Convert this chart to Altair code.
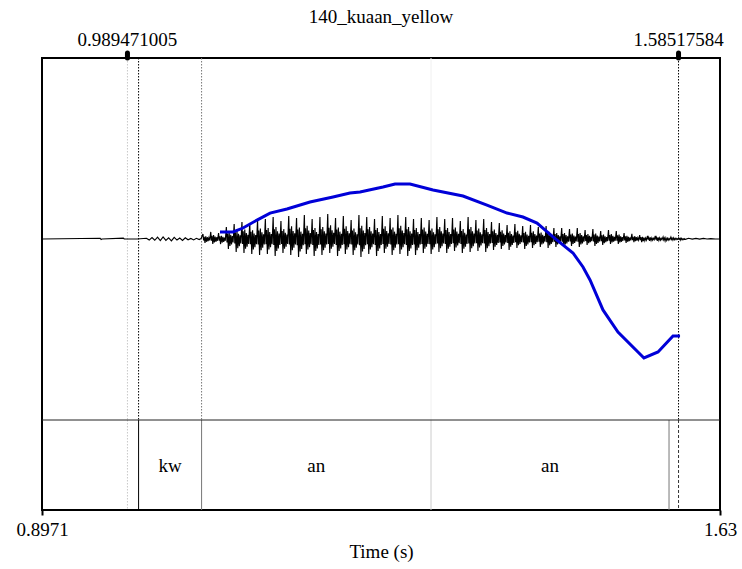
import altair as alt
import pandas as pd

# ---------------- data ----------------
T0, T1 = 0.8971, 1.63
title_text = "140_kuaan_yellow"
sel_times = [0.989471005, 1.58517584]
sel_labels = ["0.989471005", "1.58517584"]

boundary_times = [1.0015, 1.0696, 1.3176, 1.5749]
interval_start = [1.0015, 1.0696, 1.3176]
interval_end = [1.0696, 1.3176, 1.5749]
interval_text = ["kw", "an", "an"]

# pitch contour (Hz)
pitch_t = [1.0895, 1.1036, 1.1144, 1.1295, 1.1436, 1.1619, 1.1868, 1.2117, 1.2300,
           1.2409, 1.2657, 1.2787, 1.2949, 1.3198, 1.3522, 1.3781, 1.3998, 1.4170,
           1.4322, 1.4495, 1.4711, 1.4819, 1.4895, 1.5035, 1.5197, 1.5478, 1.5630,
           1.5792, 1.5868]
pitch_hz = [205.8, 205.8, 209.1, 215.7, 221.5, 224.9, 230.7, 234.8, 238.1,
            238.9, 243.1, 245.6, 245.6, 240.6, 235.6, 228.1, 221.5, 218.2,
            213.2, 201.7, 188.4, 176.8, 166.0, 141.2, 122.9, 101.4, 106.4,
            119.6, 119.6]

# waveform: pre-voicing noise
pre_t = [0.8971, 0.9600, 0.9610, 0.9620, 0.9850, 0.9860, 1.0000, 1.0100, 1.0130,
         1.0160, 1.0190, 1.0220, 1.0250, 1.0280, 1.0310, 1.0340, 1.0370, 1.0400,
         1.0430, 1.0460, 1.0490, 1.0520, 1.0550, 1.0580, 1.0610, 1.0640, 1.0670, 1.0690]
pre_a = [0, 0.004, -0.003, 0, 0.005, 0, 0, 0.004, -0.006,
         0.008, -0.007, 0.010, -0.009, 0.011, -0.008, 0.006, -0.010, 0.009,
         -0.006, 0.005, -0.008, 0.007, -0.004, 0.003, -0.005, 0.004, -0.003, 0.002]

# voiced part: one positive peak and one negative trough per glottal period
voiced_start = 1.0711
period = 0.00843
peak_amp = [0.028, 0.039, 0.033, 0.066, 0.083, 0.094, 0.088, 0.105,
            0.110, 0.121, 0.099, 0.127, 0.116, 0.132, 0.110, 0.121, 0.138, 0.116,
            0.127, 0.105, 0.132, 0.121, 0.110, 0.127, 0.116, 0.132, 0.121, 0.110,
            0.116, 0.105, 0.121, 0.110, 0.116, 0.099, 0.121, 0.105, 0.110, 0.094,
            0.088, 0.077, 0.083, 0.072, 0.077, 0.066, 0.072, 0.061,
            0.061, 0.055, 0.061, 0.050, 0.055, 0.044, 0.050, 0.044,
            0.033, 0.028, 0.022, 0.017, 0.017, 0.011, 0.011, 0.006]
trough_amp = [0.022, 0.028, 0.028, 0.055, 0.072, 0.077, 0.083, 0.088,
              0.083, 0.094, 0.077, 0.088, 0.099, 0.083, 0.094, 0.088, 0.077, 0.094,
              0.083, 0.088, 0.099, 0.083, 0.094, 0.077, 0.088, 0.083, 0.094, 0.088,
              0.077, 0.083, 0.072, 0.077, 0.066, 0.077, 0.072, 0.066, 0.072, 0.061,
              0.055, 0.061, 0.050, 0.055, 0.050, 0.044, 0.050, 0.044,
              0.044, 0.039, 0.044, 0.033, 0.039, 0.033, 0.028, 0.028,
              0.022, 0.017, 0.017, 0.011, 0.011, 0.011, 0.006, 0.006]
# shape of one period (fraction of period, relative height)
pulse_phase = [0.0, 0.08, 0.16, 0.26, 0.36, 0.46, 0.56, 0.66, 0.76, 0.86]
pulse_rel = [1.0, -0.35, 0.45, -1.0, 0.55, -0.7, 0.35, -0.55, 0.25, -0.35]

tail_t = [1.5880, 1.5920, 1.5960, 1.6000, 1.6040, 1.6080, 1.6120, 1.6160, 1.6200, 1.6250, 1.6300]
tail_a = [0.005, -0.002, 0.004, -0.001, 0.003, -0.001, 0.003, 0, 0.002, 0, 0]

# ---------------- build tables ----------------
wt, wa = list(pre_t), list(pre_a)
for i, (p, q) in enumerate(zip(peak_amp, trough_amp)):
    t0 = voiced_start + i * period
    for ph, r in zip(pulse_phase, pulse_rel):
        wt.append(t0 + ph * period)
        wa.append(r * (p if r > 0 else q))
wt += tail_t
wa += tail_a
wave_df = pd.DataFrame({"t": wt, "a": wa})
pitch_df = pd.DataFrame({"t": pitch_t, "hz": pitch_hz})
sel_df = pd.DataFrame({"t": sel_times, "label": sel_labels})
tier_df = pd.DataFrame({"start": interval_start, "end": interval_end, "text": interval_text})

W, H = 678, 452
TOP_H = 362
FONT = "Liberation Serif"
FS = 19

xs = alt.Scale(domain=[T0, T1], nice=False, zero=False)
x_axis = alt.Axis(values=[T0, T1], labelExpr="format(datum.value, '~g')",
                  title="Time (s)", grid=False,
                  domain=False, tickSize=5, tickWidth=2, tickColor="black",
                  labelFont=FONT, labelFontSize=FS, labelColor="black",
                  labelPadding=5, labelFlush=False, labelOverlap=False,
                  titleFont=FONT, titleFontSize=FS, titleFontWeight="normal",
                  titleColor="black", titlePadding=3)


def X(field):
    return alt.X(field, scale=xs, axis=x_axis)


def vline(t, y0, y1, color, dash=None, width=1.0):
    kw = dict(color=color, strokeWidth=width)
    if dash:
        kw["strokeDash"] = dash
    return alt.Chart(pd.DataFrame({"t": [t]})).mark_rule(**kw).encode(
        x=X("t:Q"), y=alt.value(y0), y2=alt.value(y1))


layers = []
# lines in the sound panel
layers.append(vline(sel_times[0], 0, TOP_H, "#c8c8c8", [1.5, 1.5]))
layers.append(vline(boundary_times[0], 0, TOP_H, "#000000", [1.5, 1.5]))
layers.append(vline(boundary_times[1], 0, TOP_H, "#777777", [1.5, 1.5]))
layers.append(vline(boundary_times[2], 0, TOP_H, "#f0f0f0"))
layers.append(vline(sel_times[1], 0, TOP_H, "#000000", [1.5, 1.5]))
# lines in the tier
layers.append(vline(sel_times[0], TOP_H, H, "#c8c8c8", [1.5, 1.5]))
layers.append(vline(boundary_times[0], TOP_H, H, "#000000"))
layers.append(vline(boundary_times[1], TOP_H, H, "#777777"))
layers.append(vline(boundary_times[2], TOP_H, H, "#cccccc"))
layers.append(vline(boundary_times[3], TOP_H, H, "#777777"))
layers.append(vline(sel_times[1], TOP_H, H, "#333333", [3, 2]))

# tier separator
layers.append(alt.Chart(pd.DataFrame({"d": [0]})).mark_rule(color="#222222", strokeWidth=1).encode(
    x=alt.value(0), x2=alt.value(W), y=alt.value(TOP_H)))

# waveform
layers.append(alt.Chart(wave_df).mark_line(color="black", strokeWidth=1.15).encode(
    x=X("t:Q"),
    y=alt.Y("a:Q", scale=alt.Scale(domain=[-1, 1], range=[TOP_H, 0]), axis=None),
    order="t:Q"))

# pitch contour
layers.append(alt.Chart(pitch_df).mark_line(color="#0000d8", strokeWidth=3).encode(
    x=X("t:Q"),
    y=alt.Y("hz:Q", scale=alt.Scale(domain=[50, 350], range=[TOP_H, 0]), axis=None)))

# tier labels
layers.append(alt.Chart(tier_df).mark_text(font=FONT, fontSize=FS, baseline="alphabetic",
                                            color="black").encode(
    x=X("mid:Q"),
    y=alt.value(414),
    text="text:N").transform_calculate(mid="(datum.start + datum.end) / 2"))

# selection labels and cursor markers
layers.append(alt.Chart(sel_df).mark_text(font=FONT, fontSize=FS, baseline="alphabetic",
                                           color="black").encode(
    x=X("t:Q"), y=alt.value(-12), text="label:N"))
layers.append(alt.Chart(sel_df).mark_rule(color="black", strokeWidth=5, strokeCap="round").encode(
    x=X("t:Q"), y=alt.value(-5), y2=alt.value(0)))

# title
layers.append(alt.Chart(pd.DataFrame({"text": [title_text]})).mark_text(
    font=FONT, fontSize=FS, baseline="alphabetic", color="black").encode(
    x=alt.value(W / 2), y=alt.value(-35), text="text:N"))

chart = alt.layer(*layers).resolve_scale(y="independent").properties(
    width=W, height=H,
    background="white",
    autosize=alt.AutoSizeParams(type="none"),
    padding={"left": 42, "top": 58, "right": 22, "bottom": 59},
).configure_view(stroke="black", strokeWidth=2)

chart.save("out.html", embed_options={"renderer": "svg", "actions": False})
